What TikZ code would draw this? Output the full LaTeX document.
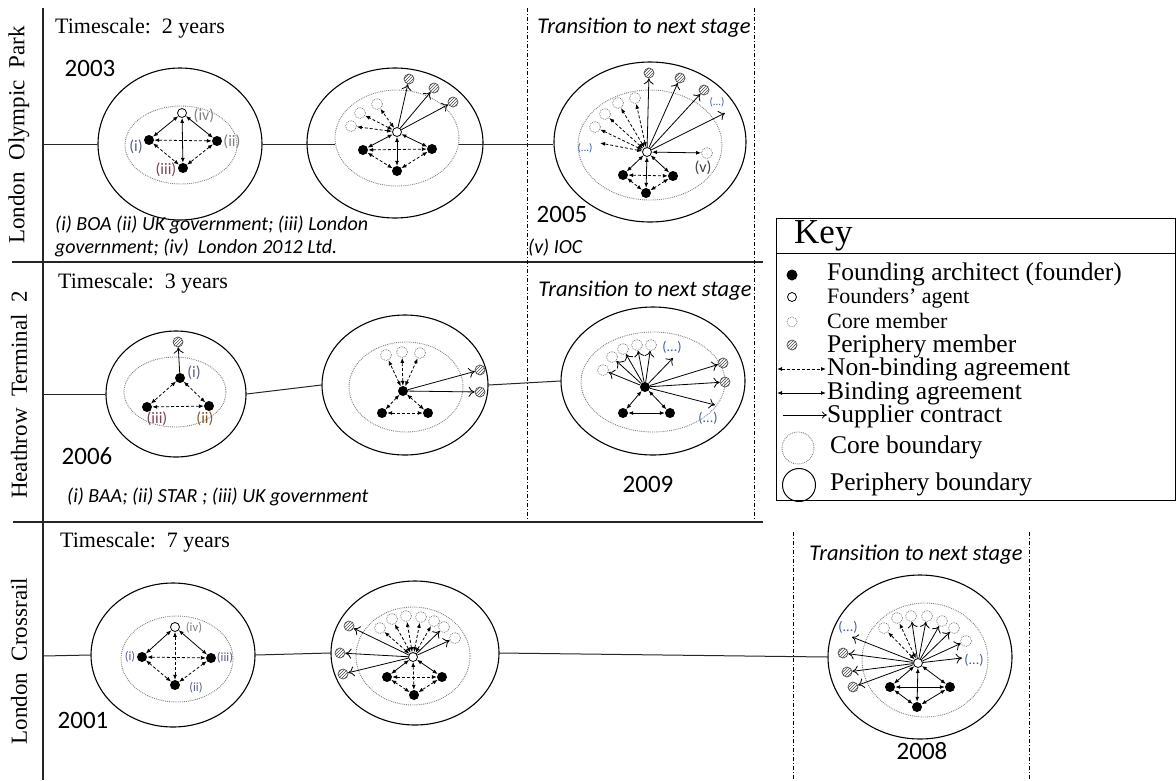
\documentclass[tikz,border=0pt]{standalone}
\usepackage{fontspec}
\setmainfont{Liberation Serif}
\newfontfamily\calibri{Carlito}
\usetikzlibrary{arrows.meta,shapes.geometric,patterns}

\definecolor{labcol}{RGB}{85,95,135}
\definecolor{labred}{RGB}{120,65,85}
\definecolor{dotcol}{RGB}{60,90,160}

\tikzset{
  founder/.style={circle, fill=black, inner sep=0pt, minimum size=10pt},
  agent/.style={circle, draw, fill=white, line width=0.8pt, inner sep=0pt, minimum size=9pt},
  coremem/.style={circle, draw=gray, line width=0.8pt, densely dotted, fill=white, inner sep=0pt, minimum size=11pt},
  periph/.style={circle, draw=gray!60!black, line width=0.7pt, pattern=north east lines, pattern color=gray!60!black, inner sep=0pt, minimum size=10pt},
  pbound/.style={ellipse, draw, line width=1.1pt, inner sep=0pt},
  cbound/.style={ellipse, draw=gray, line width=0.9pt, densely dotted, inner sep=0pt},
  binding/.style={line width=0.8pt, {Latex[length=5pt,width=4pt]}-{Latex[length=5pt,width=4pt]}},
  nonbind/.style={binding, dash pattern=on 3pt off 2pt},
  supply/.style={line width=0.8pt, -{To[length=6pt,width=10pt]}},
  tline/.style={line width=1pt, gray!30!black},
  sepline/.style={line width=2pt, gray!30!black},
  stageline/.style={line width=0.8pt, dash pattern=on 4pt off 2pt on 1pt off 2pt},
  rowlab/.style={font=\fontsize{23}{26}\selectfont, rotate=90, inner sep=0pt},
  scaletxt/.style={font=\fontsize{22}{25}\selectfont, anchor=west, inner sep=0pt},
  yeartxt/.style={font=\calibri\fontsize{25}{28}\selectfont, inner sep=0pt},
  transtxt/.style={font=\calibri\itshape\fontsize{22.5}{25}\selectfont, inner sep=0pt},
  notetxt/.style={font=\calibri\itshape\fontsize{20}{23}\selectfont, anchor=west, inner sep=0pt},
  idlab/.style={font=\calibri\fontsize{16}{17}\selectfont, inner sep=0pt, text=labcol},
  smalllab/.style={font=\calibri\fontsize{12.5}{13}\selectfont, inner sep=0pt, text=labcol},
  dots/.style={font=\calibri\fontsize{14}{15}\selectfont, inner sep=0pt, text=dotcol},
  keytxt/.style={font=\fontsize{25.5}{28}\selectfont, anchor=west, inner sep=0pt, text height=14pt, text depth=4pt},
  keysmall/.style={keytxt, font=\fontsize{22}{24}\selectfont, text height=12pt, text depth=3pt},
}

\begin{document}
\begin{tikzpicture}[x=1pt, y=-1pt]
    \useasboundingbox (0,0) rectangle (1176,780);

    % Frame of the three rows
    \coordinate (v1) at (43,8);
    \coordinate (v2) at (43,780);
    \coordinate (h1a) at (12,262);
    \coordinate (h1b) at (763,262);
    \coordinate (h2a) at (13,522);
    \coordinate (h2b) at (763,522);
    \draw [sepline] (v1) -- (v2);
    \draw [sepline] (h1a) -- (h1b);
    \draw [sepline] (h2a) -- (h2b);

    % Stage transitions
    \foreach \n/\x/\ya/\yb in {ta/527/8/520, tb/754/8/520, tc/793/532/780, td/1029/532/780}{
        \coordinate (\n1) at (\x,\ya);
        \coordinate (\n2) at (\x,\yb);
        \draw [stageline] (\n1) -- (\n2);
    }

    % Row labels
    \node[rowlab] (rowA) at (19,135) {London\ \ Olympic\ \ Park};
    \node[rowlab] (rowB) at (19,395) {Heathrow\ \ Terminal\ \ 2};
    \node[rowlab] (rowC) at (19,661) {London\ \ Crossrail};

    \node[scaletxt] (tsA) at (55,28) {Timescale:\ \ 2 years};
    \node[scaletxt] (tsB) at (58,283) {Timescale:\ \ 3 years};
    \node[scaletxt] (tsC) at (60,542) {Timescale:\ \ 7 years};

    \node[transtxt] (trA) at (644,28) {Transition to next stage};
    \node[transtxt] (trB) at (645,291) {Transition to next stage};
    \node[transtxt] (trC) at (916,555) {Transition to next stage};

    \node[yeartxt] (y2003) at (90,68) {2003};
    \node[yeartxt] (y2005) at (562,214) {2005};
    \node[yeartxt] (y2006) at (87,456) {2006};
    \node[yeartxt] (y2009) at (648,484) {2009};
    \node[yeartxt] (y2001) at (83,720) {2001};
    \node[yeartxt] (y2008) at (922,751) {2008};

    \node[notetxt] (noteA1) at (55,225) {(i) BOA (ii) UK government; (iii) London};
    \node[notetxt] (noteA2) at (55,248) {government; (iv)\ \ London 2012 Ltd.};
    \node[notetxt] (noteA3) at (528,248) {(v) IOC};
    \node[notetxt] (noteB) at (67,497) {(i) BAA; (ii) STAR ; (iii) UK government};

    % Boundaries
    \node[pbound, minimum width=164pt, minimum height=152pt] (p1) at (180,144) {};
    \node[cbound, minimum width=112pt, minimum height=78pt] (c1) at (181,145) {};
    \node[pbound, minimum width=176pt, minimum height=150pt] (p2) at (395,143) {};
    \node[cbound, minimum width=124pt, minimum height=96pt] (c2) at (397,138) {};
    \node[pbound, minimum width=192pt, minimum height=160pt] (p3) at (650,142) {};
    \node[cbound, minimum width=144pt, minimum height=110pt] (c3) at (650,145) {};
    \node[pbound, minimum width=140pt, minimum height=126pt] (p4) at (176,394) {};
    \node[cbound, minimum width=102pt, minimum height=70pt] (c4) at (175,392) {};
    \node[pbound, minimum width=166pt, minimum height=140pt] (p5) at (405,385) {};
    \node[cbound, minimum width=114pt, minimum height=90pt] (c5) at (406,387) {};
    \node[pbound, minimum width=184pt, minimum height=148pt] (p6) at (653,381) {};
    \node[cbound, minimum width=144pt, minimum height=100pt] (c6) at (653,382) {};
    \node[pbound, minimum width=164pt, minimum height=144pt] (p7) at (173,655) {};
    \node[cbound, minimum width=112pt, minimum height=86pt] (c7) at (177,659) {};
    \node[pbound, minimum width=168pt, minimum height=144pt] (p8) at (415,653) {};
    \node[cbound, minimum width=114pt, minimum height=98pt] (c8) at (413,656) {};
    \node[pbound, minimum width=184pt, minimum height=164pt] (p9) at (920,657) {};
    \node[cbound, minimum width=126pt, minimum height=114pt] (c9) at (925,660) {};

    % Time lines
    \coordinate (sA) at (43,144);
    \coordinate (sB) at (43,394);
    \coordinate (sC) at (43,656);
    \draw [tline] (sA) -- (p1.west);
    \draw [tline] (p1.east) -- (p1.east -| c2.west);
    \draw [tline] (c2.east |- p1.east) -- (p3.west |- p1.east);
    \draw [tline] (sB) -- (p4.west);
    \draw [tline] (p4.east) -- (p5.west);
    \draw [tline] (p5.east) -- (p6.west);
    \draw [tline] (sC) -- (p7.west);
    \draw [tline] (p7.east) -- (p8.west);
    \draw [tline] (p8.east) -- (p9.west);

    % Olympic Park, 2003
    \node[agent] (a1) at (182,113) {};
    \node[founder] (f1a) at (149,140) {};
    \node[founder] (f1b) at (217,141) {};
    \node[founder] (f1c) at (183,168) {};
    \node[idlab] (l1a) at (136,147) {(i)};
    \node[idlab, text=gray] (l1b) at (232,142) {(ii)};
    \node[idlab, text=labred] (l1c) at (166,170) {(iii)};
    \node[idlab, text=gray] (l1d) at (204,116) {(iv)};
    \foreach \f in {f1a, f1b, f1c} \draw [binding] (a1) -- (\f);
    \draw [nonbind] (f1a) -- (f1b);
    \draw [nonbind] (f1a) -- (f1c);
    \draw [nonbind] (f1b) -- (f1c);

    % Olympic Park, growth
    \node[agent] (a2) at (397,132) {};
    \node[founder] (f2a) at (363,150) {};
    \node[founder] (f2b) at (432,149) {};
    \node[founder] (f2c) at (397,171) {};
    \foreach \n/\x/\y in {m2a/351/126, m2b/360/113, m2c/377/104}{
        \node[coremem] (\n) at (\x,\y) {};
        \draw [nonbind] (a2) -- (\n);
    }
    \foreach \n/\x/\y in {q2a/409/79, q2b/434/88, q2c/453/102}{
        \node[periph] (\n) at (\x,\y) {};
        \draw [supply] (a2) -- (\n);
    }
    \foreach \f in {f2a, f2b, f2c} \draw [binding] (a2) -- (\f);
    \draw [nonbind] (f2a) -- (f2b);
    \draw [nonbind] (f2a) -- (f2c);
    \draw [nonbind] (f2b) -- (f2c);

    % Olympic Park, 2005
    \node[agent] (a3) at (647,152) {};
    \node[founder] (f3a) at (623,175) {};
    \node[founder] (f3b) at (673,176) {};
    \node[founder] (f3c) at (646,193) {};
    \foreach \n/\x/\y in {m3a/595/127, m3b/605/114, m3c/618/103, m3d/635/98}{
        \node[coremem] (\n) at (\x,\y) {};
        \draw [nonbind] (a3) -- (\n);
    }
    \foreach \n/\x/\y in {q3a/649/73, q3b/680/78, q3c/704/90}{
        \node[periph] (\n) at (\x,\y) {};
        \draw [supply] (a3) -- (\n);
    }
    \coordinate (d3a) at (600,143);
    \coordinate (d3b) at (725,113);
    \node[dots, font=\calibri\fontsize{11}{12}\selectfont] (l3a) at (585,148) {(...)};
    \node[dots, font=\calibri\fontsize{11}{12}\selectfont] (l3b) at (717,102) {(...)};
    \draw [nonbind] (a3) -- (d3a);
    \draw [supply] (a3) -- (d3b);
    \node[coremem] (v3) at (707,153) {};
    \node[idlab, text=black!75] (l3v) at (703,168) {(v)};
    \draw [binding] (a3) -- (v3);
    \foreach \f in {f3a, f3b, f3c} \draw [binding] (a3) -- (\f);
    \draw [nonbind] (f3a) -- (f3b);
    \draw [nonbind] (f3a) -- (f3c);
    \draw [nonbind] (f3b) -- (f3c);

    % Terminal 2, 2006
    \node[founder] (f4a) at (180,378) {};
    \node[founder] (f4b) at (209,406) {};
    \node[founder] (f4c) at (147,407) {};
    \node[periph] (q4) at (178,342) {};
    \node[idlab] (l4a) at (194,373) {(i)};
    \node[idlab, text=brown!70!black] (l4b) at (205,419) {(ii)};
    \node[idlab, text=labred] (l4c) at (157,419) {(iii)};
    \draw [supply] (f4a) -- (q4);
    \draw [nonbind] (f4a) -- (f4b);
    \draw [nonbind] (f4a) -- (f4c);
    \draw [nonbind] (f4b) -- (f4c);

    % Terminal 2, growth
    \node[founder] (f5a) at (403,391) {};
    \node[founder] (f5b) at (382,413) {};
    \node[founder] (f5c) at (428,413) {};
    \foreach \n/\x/\y in {m5a/386/355, m5b/402/352, m5c/420/353}{
        \node[coremem] (\n) at (\x,\y) {};
        \draw [nonbind] (f5a) -- (\n);
    }
    \foreach \n/\x/\y in {q5a/480/370, q5b/480/392}{
        \node[periph] (\n) at (\x,\y) {};
        \draw [supply] (f5a) -- (\n);
    }
    \draw [nonbind] (f5a) -- (f5b);
    \draw [nonbind] (f5a) -- (f5c);
    \draw [nonbind] (f5b) -- (f5c);

    % Terminal 2, 2009
    \node[founder] (f6a) at (645,387) {};
    \node[founder] (f6b) at (623,413) {};
    \node[founder] (f6c) at (670,413) {};
    \foreach \n/\x/\y in {m6a/603/370, m6b/612/357, m6c/623/349, m6d/637/345, m6e/651/345}{
        \node[coremem] (\n) at (\x,\y) {};
        \draw [supply] (f6a) -- (\n);
    }
    \foreach \n/\x/\y in {q6a/723/363, q6b/725/382}{
        \node[periph] (\n) at (\x,\y) {};
        \draw [supply] (f6a) -- (\n);
    }
    \coordinate (d6a) at (673,358);
    \coordinate (d6b) at (715,405);
    \node[dots] (l6a) at (672,347) {(...)};
    \node[dots] (l6b) at (708,418) {(...)};
    \draw [supply] (f6a) -- (d6a);
    \draw [supply] (f6a) -- (d6b);
    \draw [binding] (f6a) -- (f6b);
    \draw [binding] (f6a) -- (f6c);
    \draw [binding] (f6b) -- (f6c);

    % Crossrail, 2001
    \node[agent] (a7) at (175,627) {};
    \node[founder] (f7a) at (142,657) {};
    \node[founder] (f7b) at (211,658) {};
    \node[founder] (f7c) at (175,685) {};
    \node[smalllab, text=gray] (l7d) at (194,628) {(iv)};
    \node[smalllab] (l7a) at (130,657) {(i)};
    \node[smalllab] (l7b) at (225,658) {(iii)};
    \node[smalllab] (l7c) at (196,688) {(ii)};
    \draw [binding] (a7) -- (f7a);
    \draw [binding] (a7) -- (f7b);
    \draw [nonbind] (a7) -- (f7c);
    \draw [nonbind] (f7a) -- (f7b);
    \draw [nonbind] (f7a) -- (f7c);
    \draw [nonbind] (f7b) -- (f7c);

    % Crossrail, growth
    \node[agent] (a8) at (413,657) {};
    \node[founder] (f8a) at (387,677) {};
    \node[founder] (f8b) at (442,677) {};
    \node[founder] (f8c) at (414,695) {};
    \foreach \n/\x/\y in {m8a/380/628, m8b/392/619, m8c/406/616, m8d/421/617, m8e/434/621}{
        \node[coremem] (\n) at (\x,\y) {};
        \draw [nonbind] (a8) -- (\n);
    }
    \foreach \n/\x/\y in {m8f/444/627, m8g/455/638}{
        \node[coremem] (\n) at (\x,\y) {};
        \draw [supply] (a8) -- (\n);
    }
    \foreach \n/\x/\y in {q8a/349/626, q8b/340/653, q8c/343/674}{
        \node[periph] (\n) at (\x,\y) {};
        \draw [supply] (a8) -- (\n);
    }
    \draw [binding] (a8) -- (f8a);
    \draw [binding] (a8) -- (f8b);
    \draw [nonbind] (a8) -- (f8c);
    \draw [nonbind] (f8a) -- (f8b);
    \draw [nonbind] (f8a) -- (f8c);
    \draw [nonbind] (f8b) -- (f8c);

    % Crossrail, 2008
    \node[agent] (a9) at (918,663) {};
    \node[founder] (f9a) at (890,687) {};
    \node[founder] (f9b) at (950,687) {};
    \node[founder] (f9c) at (917,707) {};
    \foreach \n/\x/\y in {m9a/884/628, m9b/897/618}{
        \node[coremem] (\n) at (\x,\y) {};
        \draw [nonbind] (a9) -- (\n);
    }
    \foreach \n/\x/\y in {m9c/911/616, m9d/927/616, m9e/942/621, m9f/954/628, m9g/966/641}{
        \node[coremem] (\n) at (\x,\y) {};
        \draw [supply] (a9) -- (\n);
    }
    \foreach \n/\x/\y in {q9a/843/653, q9b/847/672, q9c/853/687}{
        \node[periph] (\n) at (\x,\y) {};
        \draw [supply] (a9) -- (\n);
    }
    \coordinate (d9a) at (962,658);
    \coordinate (d9b) at (852,637);
    \node[dots] (l9a) at (974,660) {(...)};
    \node[dots] (l9b) at (848,627) {(...)};
    \draw [supply] (a9) -- (d9a);
    \draw [supply] (a9) -- (d9b);
    \foreach \f in {f9a, f9b, f9c} \draw [binding] (a9) -- (\f);
    \draw [binding] (f9a) -- (f9b);
    \draw [binding] (f9a) -- (f9c);
    \draw [binding] (f9b) -- (f9c);

    % Key
    \coordinate (k1) at (776,218);
    \coordinate (k2) at (1175,500);
    \coordinate (k3) at (776,253);
    \coordinate (k4) at (1175,253);
    \draw [line width=1pt] (k1) rectangle (k2);
    \draw [line width=1pt] (k3) -- (k4);
    \node[keytxt, font=\fontsize{35}{38}\selectfont, text height=22pt, text depth=7pt] (keyT) at (794,236) {Key};
    \node[founder, minimum size=11pt] (kf) at (792,275) {};
    \node[agent] (ka) at (792,297) {};
    \node[coremem, minimum size=10pt] (km) at (792,322) {};
    \node[periph] (kq) at (792,345) {};
    \node[keytxt] (kt1) at (827,275) {Founding architect (founder)};
    \node[keysmall] (kt2) at (827,299) {Founders’ agent};
    \node[keysmall] (kt3) at (827,324) {Core member};
    \node[keytxt] (kt4) at (827,347) {Periphery member};
    \node[keytxt] (kt5) at (827,370) {Non-binding agreement};
    \node[keytxt] (kt6) at (827,394) {Binding agreement};
    \node[keytxt] (kt7) at (827,417) {Supplier contract};
    \node[keytxt] (kt8) at (830,448) {Core boundary};
    \node[keytxt] (kt9) at (830,485) {Periphery boundary};
    \coordinate (kn1) at (777,369);
    \coordinate (kn2) at (826,369);
    \coordinate (kb1) at (777,393);
    \coordinate (kb2) at (826,393);
    \coordinate (ks1) at (783,415);
    \coordinate (ks2) at (827,415);
    \draw [nonbind] (kn1) -- (kn2);
    \draw [binding] (kb1) -- (kb2);
    \draw [line width=0.8pt, -{To[length=5pt,width=7pt]}] (ks1) -- (ks2);
    \node[circle, draw=gray, densely dotted, line width=0.9pt, minimum size=32pt, inner sep=0pt] (kc) at (798,448) {};
    \node[circle, draw, line width=1pt, minimum size=33pt, inner sep=0pt] (kp) at (799,485) {};

\end{tikzpicture}
\end{document}
